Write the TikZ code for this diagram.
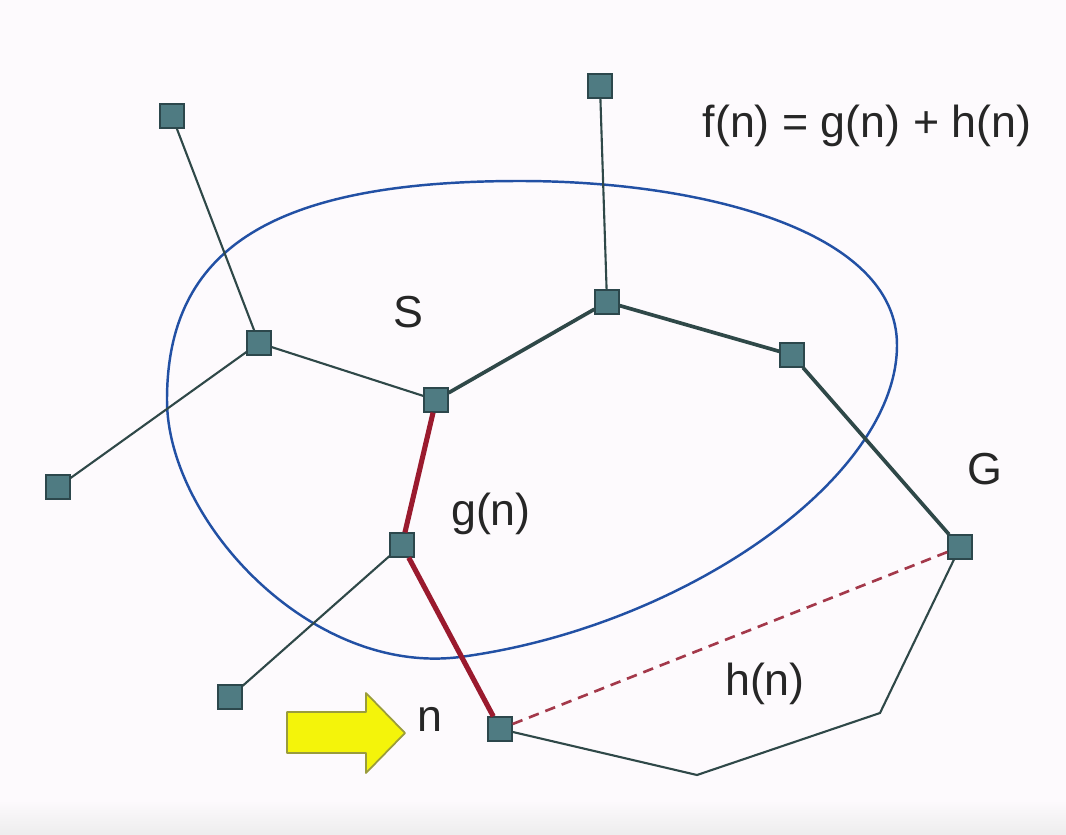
\documentclass[tikz,border=0pt]{standalone}
\usepackage{fontspec}
\setmainfont{Liberation Sans}
\definecolor{bg}{HTML}{FDFAFD}
\definecolor{sqfill}{HTML}{4F7B82}
\definecolor{sqborder}{HTML}{2C474C}
\definecolor{edge}{HTML}{2F4848}
\definecolor{redpath}{HTML}{9A1A2E}
\definecolor{dashred}{HTML}{A3384A}
\definecolor{blueloop}{HTML}{2250A4}
\definecolor{arrowfill}{HTML}{F4F40A}
\definecolor{arrowline}{HTML}{9A9C3C}
\begin{document}
\begin{tikzpicture}[x=0.02cm,y=-0.02cm,
  sq/.style={draw=sqborder,fill=sqfill,minimum size=0.48cm,inner sep=0pt,line width=0.7pt},
  thin/.style={draw=edge,line width=1.2pt},
  thick/.style={draw=edge,line width=2.1pt},
  gpath/.style={draw=redpath,line width=2.9pt},
  hpath/.style={draw=dashred,line width=1.5pt,dash pattern=on 6pt off 4pt},
  lbl/.style={font=\fontsize{25.5}{30}\selectfont,text=black!85,inner sep=0pt}]
\fill[bg] (0,0) rectangle (1066,835);
\shade[top color=bg,bottom color=black!7] (0,800) rectangle (1066,835);
\useasboundingbox (0,0) rectangle (1066,835);
% blue region
\draw[blueloop,line width=1.4pt]
  (167,400) .. controls (167,250) and (270,181) .. (520,181)
            .. controls (700,181) and (897,230) .. (897,345)
            .. controls (897,480) and (680,628) .. (460,657)
            .. controls (310,676) and (167,520) .. cycle;
% nodes
\node[sq] (A) at (172,116) {};
\node[sq] (B) at (259,343) {};
\node[sq] (C) at (58,487) {};
\node[sq] (D) at (436,400) {};
\node[sq] (E) at (600,86) {};
\node[sq] (F) at (607,302) {};
\node[sq] (H) at (792,355) {};
\node[sq] (G) at (960,547) {};
\node[sq] (I) at (402,545) {};
\node[sq] (J) at (230,697) {};
\node[sq] (N) at (500,729) {};
\coordinate (P1) at (697,775);
\coordinate (P2) at (880,713);
% edges
\draw[thin] (A) -- (B);
\draw[thin] (B) -- (C);
\draw[thin] (B) -- (D);
\draw[thin] (E) -- (F);
\draw[thick] (D) -- (F);
\draw[thick] (F) -- (H);
\draw[thick] (H) -- (G);
\draw[thin] (I) -- (J);
\draw[gpath] (D) -- (I);
\draw[gpath] (I) -- (N);
\draw[thin] (N) -- (P1) -- (P2) -- (G);
\draw[hpath] (N) -- (G);
% yellow arrow
\filldraw[fill=arrowfill,draw=arrowline,line width=1pt,line join=round]
  (287,712) -- (366,712) -- (366,693) -- (405,733) -- (366,773) -- (366,753) -- (287,753) -- cycle;
% labels
\node[lbl] (fn) at (867,126) {f(n) = g(n) + h(n)};
\node[lbl] (Sl) at (408,312) {S};
\node[lbl] (gl) at (491,514) {g(n)};
\node[lbl] (Gl) at (985,469) {G};
\node[lbl] (hl) at (765,684) {h(n)};
\node[lbl] (nl) at (430,719) {n};
\end{tikzpicture}
\end{document}
